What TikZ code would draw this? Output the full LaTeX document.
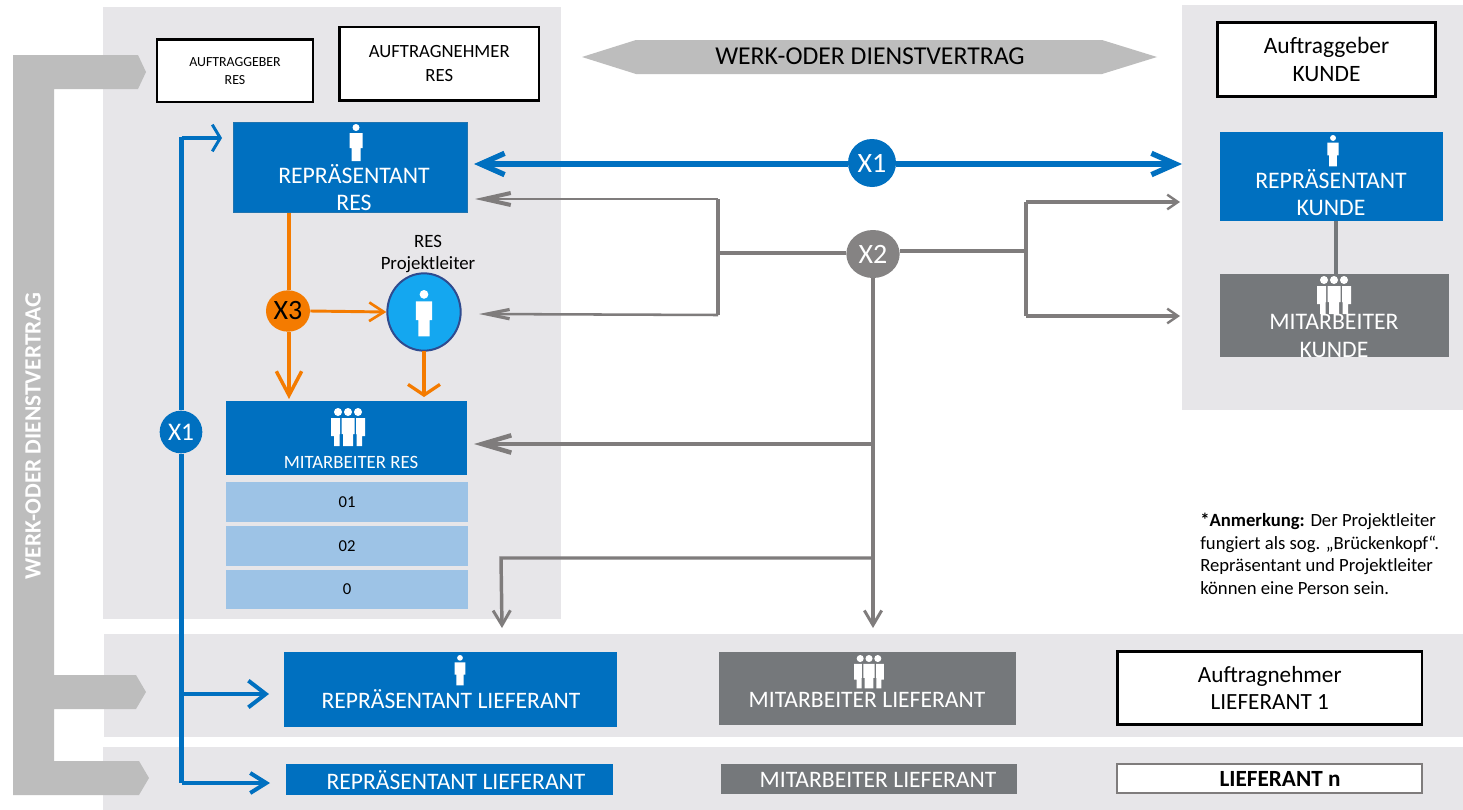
\documentclass[tikz,border=0pt]{standalone}
\usepackage{fontspec}
\setmainfont{Carlito}
\usetikzlibrary{arrows.meta,shapes.geometric,calc}
\definecolor{panelc}{HTML}{E7E6E9}
\definecolor{blueb}{HTML}{0070C0}
\definecolor{greyb}{HTML}{75787B}
\definecolor{band}{HTML}{BDBDBD}
\definecolor{orangeb}{HTML}{F47B00}
\definecolor{lineg}{HTML}{7F7C7C}
\definecolor{subb}{HTML}{9DC3E6}
\definecolor{plc}{HTML}{14A7F0}
\definecolor{plb}{HTML}{2F4B8F}
\tikzset{
 x=0.75pt,y=-0.75pt,
 panel/.style={fill=panelc,draw=none},
 txt/.style={inner sep=0,align=center,font=\fontsize{#1}{#1}\selectfont},
 txt/.default=12,
 whitebox/.style={fill=white,draw=black,line width=1.6pt},
 band/.style={fill=band,draw=none},
 wt/.style={txt=#1,text=white},
 bt/.style={txt=#1,text=black},
 bluearrow/.style={draw=blueb,line width=3.6pt},
 greyline/.style={draw=lineg,line width=2.6pt},
 personicon/.pic={
   \fill[white] (0,3.5) circle[radius=3.5];
   \fill[white] (-6.5,9) -- (6.5,9) -- (6.5,24) -- (4.5,24) -- (4.5,37) -- (-4.5,37) -- (-4.5,24) -- (-6.5,24) -- cycle;
 },
 groupicon/.pic={
   \foreach \dx in {-10,0,10}{\fill[white] (\dx,4) circle[radius=4];}
   \fill[white] (-6.5,10) -- (6.5,10) -- (6.5,26) -- (5,26) -- (5,38) -- (-5,38) -- (-5,26) -- (-6.5,26) -- cycle;
   \foreach \s in {-1,1}{
     \fill[white] (\s*8,10) -- (\s*17,10) -- (\s*17,28) -- (\s*14,28) -- (\s*14,38) -- (\s*8.5,38) -- (\s*8.5,26) -- (\s*8,26) -- cycle;
   }
 },
}
\begin{document}
\begin{tikzpicture}
\useasboundingbox (0,0) rectangle (1463,810);
\fill[white] (0,0) rectangle (1463,810);
% panels
\fill[panel] (103,7) rectangle (561,619);
\fill[panel] (1182,5) rectangle (1463,410);
\fill[panel] (104,634) rectangle (1463,737);
\fill[panel] (103,747) rectangle (1463,810);
% left band
\fill[band] (13,55) -- (54,55) -- (138,55) -- (146,72) -- (138,89) -- (54,89) -- (54,675) -- (136,675) -- (146,692) -- (136,709) -- (54,709) -- (54,761) -- (139,761) -- (149,778) -- (139,795) -- (13,795) -- cycle;
\node[txt=17.5,text=white,rotate=90,font=\fontsize{17.5}{17.5}\selectfont\bfseries] (wdv) at (33,436) {WERK-ODER DIENSTVERTRAG};
% top double arrow
\fill[band] (582,57) -- (636,40) -- (1102,40) -- (1157,57) -- (1102,74) -- (636,74) -- cycle;
\node[bt=19.3] (wdv2) at (870,56) {WERK-ODER DIENSTVERTRAG};
% white boxes
\draw[whitebox] (157,39.5) rectangle (313,102) node[midway,bt=10.4] (agr) {AUFTRAGGEBER\\[3pt]RES};
\draw[whitebox] (339.5,27) rectangle (539,100.5) node[midway,bt=14] (anr) {AUFTRAGNEHMER\\[4pt]RES};
\draw[whitebox] (1217.5,22.5) rectangle (1435.5,96.5) node[midway,bt=17.6] (agk) {Auftraggeber\\[3pt]KUNDE};
\draw[whitebox] (1117.5,651.5) rectangle (1422,724.5) node[midway,bt=17.4] (anl) {Auftragnehmer\\[3pt]LIEFERANT 1};
\draw[fill=white,draw=lineg,line width=2.2pt] (1117,764) rectangle (1422,793);
\node[bt=17.4,font=\fontsize{17.4}{17.4}\selectfont\bfseries] (lfn) at (1280,779) {LIEFERANT n};
% representative RES
\fill[blueb] (233,122) rectangle (468,213);
\draw[draw=blueb!75!gray,line width=0.8pt] (233.5,122.5) rectangle (467.5,212.5);
\pic at (356,124) {personicon};
\node[wt=17.8] (rr1) at (354,174) {REPRÄSENTANT};
\node[wt=17.8] (rr2) at (354,203) {RES};
% Mitarbeiter RES
\fill[blueb] (226,401) rectangle (467,475);
\pic at (348,408) {groupicon};
\node[wt=14.1] (mr) at (351,462) {MITARBEITER RES};
\foreach \a/\b/\t in {482/522/01,526/566/02,570/609/0}{
  \fill[subb] (226,\a) rectangle (468,\b);
  \node[bt=12.5] (sub\t) at (347,{(\a+\b)/2}) {\t};
}
% Kunde
\fill[blueb] (1220,132) rectangle (1443,221);
\pic at (1333,135) [scale=0.85] {personicon};
\node[wt=17.8] (rk1) at (1331,179) {REPRÄSENTANT};
\node[wt=17.8] (rk2) at (1331,208) {KUNDE};
\fill[greyb] (1220,274) rectangle (1449,357);
\coordinate (rkb) at (1336,221);
\coordinate (mkt) at (1336,274);
\draw[draw=greyb,line width=3pt] (rkb) -- (mkt);
\pic at (1334,276) {groupicon};
\node[wt=17.8] (mk1) at (1334,322) {MITARBEITER};
\begin{scope}
\clip (1220,274) rectangle (1449,357);
\node[wt=17.8] (mk2) at (1334,350) {KUNDE};
\end{scope}
% Lieferant row 1
\fill[blueb] (284,652) rectangle (617,727);
\pic at (460,655) [scale=0.82] {personicon};
\node[wt=17.7] (rl1) at (451,699) {REPRÄSENTANT LIEFERANT};
\fill[greyb] (719,652) rectangle (1016,725);
\pic at (869,655) [scale=0.88] {groupicon};
\node[wt=17.7] (ml1) at (867,700) {MITARBEITER LIEFERANT};
% row 2
\fill[blueb] (286,764) rectangle (613,795);
\node[wt=17.7] (rl2) at (456,780.5) {REPRÄSENTANT LIEFERANT};
\fill[greyb] (721,764) rectangle (1017,794);
\node[wt=17.7] (ml2) at (878,780) {MITARBEITER LIEFERANT};
% Projektleiter
\node[bt=14.1] (pllab) at (428,254) {RES\\[3pt]Projektleiter};
\node[draw=plb,fill=plc,line width=1.5pt,ellipse,minimum width=55pt,minimum height=58pt,inner sep=0] (pl) at (424,312) {};
\pic at (424,290) [scale=1.25] {personicon};
% Orange
\node[fill=orangeb,ellipse,minimum width=33pt,minimum height=31pt,inner sep=0,text=black,font=\fontsize{21}{21}\selectfont] (x3) at (288,311) {\raisebox{-2pt}{X3}};
\coordinate (orTop) at (289,213);
\coordinate (orEnd) at (289,399);
\coordinate (orEnd2) at (424,397);
\coordinate (orEnd3) at (424,351);
\draw[draw=orangeb,line width=3pt] (orTop) -- (x3.north -| orTop);
\draw[draw=orangeb,line width=3pt,-{Straight Barb[length=18pt,width=19pt,line width=2.6pt]}] (x3.south -| orEnd) -- (orEnd);
\draw[draw=orangeb,line width=2.2pt,-{Straight Barb[length=11pt,width=14pt,line width=2pt]}] (x3.east) -- (pl.west);
\draw[draw=orangeb,line width=3.6pt,-{Straight Barb[length=8pt,width=24pt,line width=2.4pt]}] (orEnd3) -- (orEnd2);
% Blue left
\node[fill=blueb,circle,minimum size=32pt,inner sep=0,text=white,font=\fontsize{19}{19}\selectfont] (x1l) at (181,432) {X1};
\coordinate (bT) at (222,138);
\coordinate (bc) at (181.5,138);
\coordinate (bct) at (181.5,136.7);
\coordinate (b1) at (269,694);
\coordinate (b2) at (270,783);
\draw[bluearrow] (x1l.north -| bc) -- (bct);
\draw[bluearrow,-{Straight Barb[length=6pt,width=20pt,line width=2.2pt]}] (bc) -- (bT);
\draw[bluearrow] (x1l.south -| bc) -- (b2 -| bc);
\draw[bluearrow,-{Straight Barb[length=13pt,width=20pt,line width=3pt]}] (b1 -| bc) -- (b1);
\draw[draw=blueb,line width=3pt,-{Straight Barb[length=12pt,width=15pt,line width=3pt]}] (b2 -| bc) -- (b2);
% Blue big
\coordinate (bbL) at (474,164);
\coordinate (bbR) at (1182,164);
\node[fill=blueb,circle,minimum size=36pt,inner sep=0,text=white,font=\fontsize{21}{21}\selectfont] (x1) at (872,163) {X1};
\draw[draw=blueb,line width=4pt,-{Straight Barb[length=18pt,width=16pt,line width=4pt]}] (x1.west |- bbL) -- (bbL);
\draw[draw=blueb,line width=4pt,-{Straight Barb[length=18pt,width=16pt,line width=4pt]}] (x1.east |- bbR) -- (bbR);
% Grey X2
\node[fill=lineg!95!white,ellipse,minimum width=40pt,minimum height=36pt,inner sep=0,text=white,font=\fontsize{21}{21}\selectfont] (x2) at (873,254) {X2};
\coordinate (g1) at (475,199);
\coordinate (g2) at (479,314);
\coordinate (g3) at (718,253);
\coordinate (g1c) at (718,199);
\coordinate (g2c) at (718,315);
\coordinate (g4) at (1026,251);
\coordinate (g5) at (1180,202);
\coordinate (g6) at (1180,316);
\coordinate (gv) at (873,628);
\coordinate (g7) at (474,444);
\coordinate (g8) at (502,628);
\coordinate (g7c) at (873,444);
\coordinate (g8c) at (873,558);
\coordinate (g8d) at (501,558);
\draw[greyline] (g3) -- (x2.west |- g3);
\draw[draw=lineg,line width=3.4pt] (g1c) -- (g2c);
\draw[draw=lineg,line width=2.2pt,-{Straight Barb[length=20pt,width=9pt,line width=3pt]}] (g1c) -- (g1);
\draw[draw=lineg,line width=1.9pt,-{Straight Barb[length=17pt,width=7pt,line width=2.4pt]}] (g2c) -- (g2);
\draw[greyline] (x2.east |- g4) -- (g4);
\draw[greyline] (g4 |- g5) -- (g4 |- g6);
\draw[greyline,-{Straight Barb[length=8pt,width=11pt,line width=1.8pt]}] (g4 |- g5) -- (g5);
\draw[greyline,-{Straight Barb[length=8pt,width=11pt,line width=1.8pt]}] (g4 |- g6) -- (g6);
\draw[greyline,-{Straight Barb[length=11pt,width=13pt,line width=2.2pt]}] (x2.south) -- (gv);
\draw[draw=lineg,line width=2.6pt,-{Straight Barb[length=22pt,width=13pt,line width=3.4pt]}] (g7c) -- (g7);
\draw[greyline,-{Straight Barb[length=11pt,width=13pt,line width=2.2pt]}] (g8c) -- (g8d) -- (g8);
% Note
\node[anchor=north west,inner sep=0,align=left,text=black,font=\fontsize{14}{17}\selectfont] (note) at (1200,513) {\textbf{*Anmerkung:} Der Projektleiter\\fungiert als sog. „Brückenkopf“.\\Repräsentant und Projektleiter\\können eine Person sein.};
\end{tikzpicture}
\end{document}
